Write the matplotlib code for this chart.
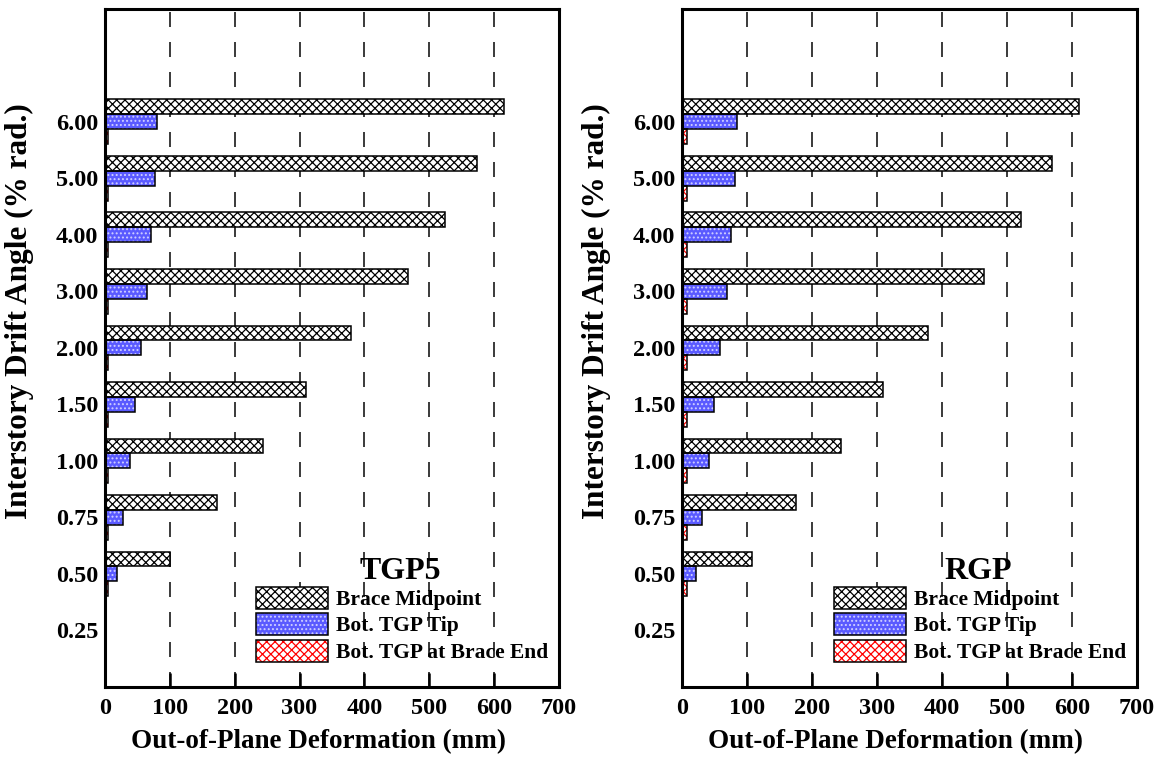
import matplotlib
matplotlib.use("Agg")
import matplotlib.pyplot as plt
import matplotlib.patches as mpatches
import numpy as np

plt.rcParams["font.family"] = ["Liberation Serif", "DejaVu Serif"]
plt.rcParams["font.weight"] = "bold"
plt.rcParams["axes.labelweight"] = "bold"
plt.rcParams["hatch.linewidth"] = 0.9

# drift angle levels (bottom to top)
drift_labels = ["0.25", "0.50", "0.75", "1.00", "1.50", "2.00", "3.00", "4.00", "5.00", "6.00"]

# out-of-plane deformation (mm)
tgp5_brace = [0, 100, 172, 244, 310, 379, 467, 525, 573, 616]
tgp5_tip = [0, 18, 27, 38, 46, 56, 65, 71, 77, 80]
tgp5_end = [0, 4, 4, 4, 4, 4, 4, 4, 4, 4]

rgp_brace = [0, 107, 175, 245, 309, 378, 465, 522, 569, 611]
rgp_tip = [0, 21, 31, 41, 49, 59, 70, 76, 81, 85]
rgp_end = [0, 7, 7, 7, 7, 7, 7, 7, 7, 7]

series_names = ["Brace Midpoint", "Bot. TGP Tip", "Bot. TGP at Brace End"]
# (face colour, hatch colour, hatch)
series_styles = [
    ("white", "black", "xxxx"),
    ("#5a5aff", "#d0d0ff", "...."),
    ("white", "#ff0000", "xxxx"),
]

BAR_H = 0.265


def draw_panel(ax, brace, tip, end, name):
    pos = np.arange(len(drift_labels))
    offsets = [BAR_H, 0.0, -BAR_H]
    for vals, off, (face, hc, hatch) in zip([brace, tip, end], offsets, series_styles):
        ax.barh(pos + off, vals, height=BAR_H, color=face, edgecolor=hc,
                hatch=hatch, linewidth=0, zorder=2)
        ax.barh(pos + off, vals, height=BAR_H, fill=False, edgecolor="black",
                linewidth=1.1, zorder=3)

    ax.set_xlim(0, 700)
    ax.set_ylim(-1, 11)
    ax.set_xticks(np.arange(0, 701, 100))
    ax.set_yticks(pos)
    ax.set_yticklabels(drift_labels)
    ax.tick_params(axis="x", direction="in", length=10, width=1.8, labelsize=17.5, pad=8)
    ax.tick_params(axis="y", length=0, labelsize=17.5, pad=5)
    for sp in ax.spines.values():
        sp.set_linewidth(2.2)

    lw = 1.4
    ax.grid(axis="x", color="#3a3a3a", linewidth=lw, linestyle=(0, (10.8 / lw, 10.8 / lw)))
    ax.set_axisbelow(True)

    ax.set_xlabel("Out-of-Plane Deformation (mm)", fontsize=19.5)
    ax.xaxis.set_label_coords(0.47, -0.062)
    ax.set_ylabel("Interstory Drift Angle (% rad.)", fontsize=22.5)
    ax.yaxis.set_label_coords(-0.157, 0.555)

    ax.text(455, 1.05, name, fontsize=23, ha="center", va="center")

    handles = []
    for face, hc, hatch in series_styles:
        fill = mpatches.Patch(facecolor=face, edgecolor=hc, hatch=hatch, linewidth=0)
        edge = mpatches.Patch(fill=False, edgecolor="black", linewidth=1.1)
        handles.append((fill, edge))
    ax.legend(handles, series_names, loc="upper left", bbox_to_anchor=(0.333, 0.148),
              frameon=False, fontsize=15.5, handlelength=3.35, handleheight=1.2,
              handletextpad=0.38, labelspacing=0.15, borderpad=0, borderaxespad=0)


fig = plt.figure(figsize=(11.64, 7.58), dpi=100)
ax1 = fig.add_axes([0.0902, 0.0937, 0.3900, 0.8945])
ax2 = fig.add_axes([0.5859, 0.0937, 0.3909, 0.8945])

draw_panel(ax1, tgp5_brace, tgp5_tip, tgp5_end, "TGP5")
draw_panel(ax2, rgp_brace, rgp_tip, rgp_end, "RGP")

fig.savefig("out.png", dpi=100)
